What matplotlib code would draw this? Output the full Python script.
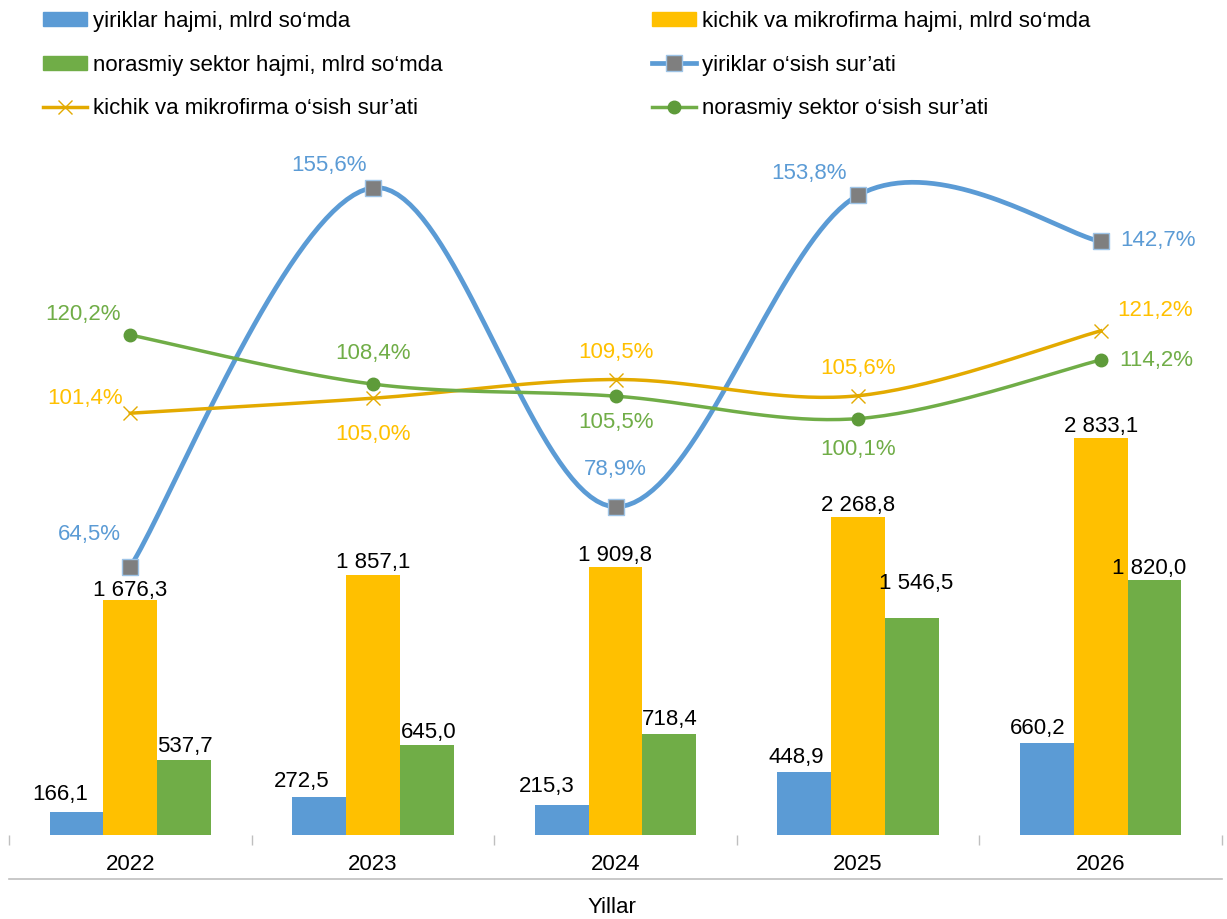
import matplotlib.pyplot as plt
from matplotlib.lines import Line2D
from matplotlib.patches import Patch
import matplotlib.transforms as mtransforms
import numpy as np

plt.rcParams['font.family'] = ['Liberation Sans', 'DejaVu Sans']

# data
years = ['2022', '2023', '2024', '2025', '2026']
yiriklar_hajm = [166.1, 272.5, 215.3, 448.9, 660.2]
kichik_hajm = [1676.3, 1857.1, 1909.8, 2268.8, 2833.1]
norasmiy_hajm = [537.7, 645.0, 718.4, 1546.5, 1820.0]
yiriklar_osish = [64.5, 155.6, 78.9, 153.8, 142.7]
kichik_osish = [101.4, 105.0, 109.5, 105.6, 121.2]
norasmiy_osish = [120.2, 108.4, 105.5, 100.1, 114.2]

BLUE = '#5B9BD5'
YELLOW = '#FFC000'
YELLOW_LINE = '#E3AA00'
GREEN = '#70AD47'
GREEN_DARK = '#5E9B3A'
FS = 16


def fmt_num(v):
    s = '{:,.1f}'.format(v)
    return s.replace(',', ' ').replace('.', ',')


def smooth(xs, ys, n=40):
    # Catmull-Rom curve through the points (like Excel "smoothed line")
    xs = np.asarray(xs, float)
    ys = np.asarray(ys, float)
    px = np.concatenate([[xs[0]], xs, [xs[-1]]])
    py = np.concatenate([[ys[0]], ys, [ys[-1]]])
    outx, outy = [], []
    t = np.linspace(0, 1, n)
    for i in range(1, len(px) - 2):
        p0, p1, p2, p3 = px[i - 1], px[i], px[i + 1], px[i + 2]
        q0, q1, q2, q3 = py[i - 1], py[i], py[i + 1], py[i + 2]
        m1x, m2x = (p2 - p0) / 2, (p3 - p1) / 2
        m1y, m2y = (q2 - q0) / 2, (q3 - q1) / 2
        h00 = 2 * t**3 - 3 * t**2 + 1
        h10 = t**3 - 2 * t**2 + t
        h01 = -2 * t**3 + 3 * t**2
        h11 = t**3 - t**2
        outx.extend(h00 * p1 + h10 * m1x + h01 * p2 + h11 * m2x)
        outy.extend(h00 * q1 + h10 * m1y + h01 * q2 + h11 * m2y)
    return np.array(outx), np.array(outy)


W, H = 1227, 919
fig = plt.figure(figsize=(W / 100, H / 100), dpi=100)
left, right, base, top = 9, 1222, 835, 134.5
ax = fig.add_axes([left / W, (H - base) / H, (right - left) / W, (base - top) / H])

x = np.arange(len(years))
bw = 0.222
ax.bar(x - bw, yiriklar_hajm, bw, color=BLUE, zorder=2)
ax.bar(x, kichik_hajm, bw, color=YELLOW, zorder=2)
ax.bar(x + bw, norasmiy_hajm, bw, color=GREEN, zorder=2)
ax.set_xlim(-0.5, len(years) - 0.5)
ax.set_ylim(0, 5000)

# bar labels
blue_off = [(-16, 17), (-17, 15), (-15, 18), (-8, 15), (-9, 14)]
yel_off = [(0, 10), (0, 12), (0, 12), (0, 12), (0, 12)]
grn_off = [(1, 13), (2, 12), (0, 15), (4, 35), (-5, 12)]
for vals, dxs, off, in [(yiriklar_hajm, -bw, blue_off),
                        (kichik_hajm, 0, yel_off),
                        (norasmiy_hajm, bw, grn_off)]:
    for i, v in enumerate(vals):
        ax.annotate(fmt_num(v), (x[i] + dxs, v), xytext=off[i],
                    textcoords='offset pixels', ha='center', va='center',
                    fontsize=FS, color='black')

for s in ax.spines.values():
    s.set_visible(False)
ax.set_yticks([])
ax.set_xticks(x)
ax.set_xticklabels(years, fontsize=FS)
ax.tick_params(axis='x', which='major', length=0, pad=14)
ax.set_xticks(np.arange(-0.5, len(years)), minor=True)
ax.tick_params(axis='x', which='minor', length=7, width=1, color='#BFBFBF')

# second level axis line
trans = mtransforms.blended_transform_factory(ax.transData, ax.transAxes)
yline = -(879 - base) / (base - top)
ax.plot([-0.5, len(years) - 0.5], [yline, yline], transform=trans,
        color='#BFBFBF', lw=1.2, clip_on=False)
fig.text(612 / W, (H - 897) / H, 'Yillar', ha='center', va='top', fontsize=FS)

# lines
ax2 = ax.twinx()
ax2.set_ylim(0, 168.4)
for s in ax2.spines.values():
    s.set_visible(False)
ax2.set_yticks([])

sx, sy = smooth(x, yiriklar_osish)
ax2.plot(sx, sy, color=BLUE, lw=3.4, solid_capstyle='round', zorder=3)
ax2.plot(x, yiriklar_osish, ls='none', marker='s', ms=11.5, mfc='#7F7F7F',
         mec='#9DC3E6', mew=1, zorder=4)
sx, sy = smooth(x, kichik_osish)
ax2.plot(sx, sy, color=YELLOW_LINE, lw=2.5, zorder=3)
ax2.plot(x, kichik_osish, ls='none', marker='x', ms=9.5, mec=YELLOW_LINE,
         mew=1, zorder=4)
sx, sy = smooth(x, norasmiy_osish)
ax2.plot(sx, sy, color=GREEN, lw=2.5, zorder=3)
ax2.plot(x, norasmiy_osish, ls='none', marker='o', ms=9, mfc=GREEN_DARK,
         mec=GREEN_DARK, zorder=4)

b_off = [(-41, 32), (-44, 22), (0, 37), (-49, 22), (57, 1)]
k_off = [(-45, 15), (0, -36), (0, 27), (0, 27), (54, 20)]
n_off = [(-47, 20), (0, 31), (0, -26), (0, -31), (56, -1)]
for vals, off, col in [(yiriklar_osish, b_off, BLUE),
                       (kichik_osish, k_off, YELLOW),
                       (norasmiy_osish, n_off, GREEN)]:
    for i, v in enumerate(vals):
        ax2.annotate(fmt_num(v) + '%', (x[i], v), xytext=off[i],
                     textcoords='offset pixels', ha='center', va='center',
                     fontsize=FS, color=col)

# legend
h_bar_b = Patch(color=BLUE)
h_bar_k = Patch(color=YELLOW)
h_bar_n = Patch(color=GREEN)
h_ln_b = Line2D([], [], color=BLUE, lw=3.4, marker='s', ms=11.5,
                mfc='#7F7F7F', mec='#9DC3E6')
h_ln_k = Line2D([], [], color=YELLOW_LINE, lw=2.5, marker='x', ms=9.5,
                mec=YELLOW_LINE, mew=1)
h_ln_n = Line2D([], [], color=GREEN, lw=2.5, marker='o', ms=9,
                mfc=GREEN_DARK, mec=GREEN_DARK)
leg_kw = dict(frameon=False, fontsize=FS, handlelength=2.0, handleheight=0.55,
              handletextpad=0.25, labelspacing=1.02, borderpad=0,
              borderaxespad=0, loc='upper left')
leg1 = fig.legend([h_bar_b, h_bar_n, h_ln_k],
                  ['yiriklar hajmi, mlrd so‘mda',
                   'norasmiy sektor hajmi, mlrd so‘mda',
                   'kichik va mikrofirma o‘sish sur’ati'],
                  bbox_to_anchor=(43 / W, (H - 11) / H), **leg_kw)
leg2 = fig.legend([h_bar_k, h_ln_b, h_ln_n],
                  ['kichik va mikrofirma hajmi, mlrd so‘mda',
                   'yiriklar o‘sish sur’ati',
                   'norasmiy sektor o‘sish sur’ati'],
                  bbox_to_anchor=(652 / W, (H - 11) / H), **leg_kw)

fig.savefig('out.png', dpi=100)
